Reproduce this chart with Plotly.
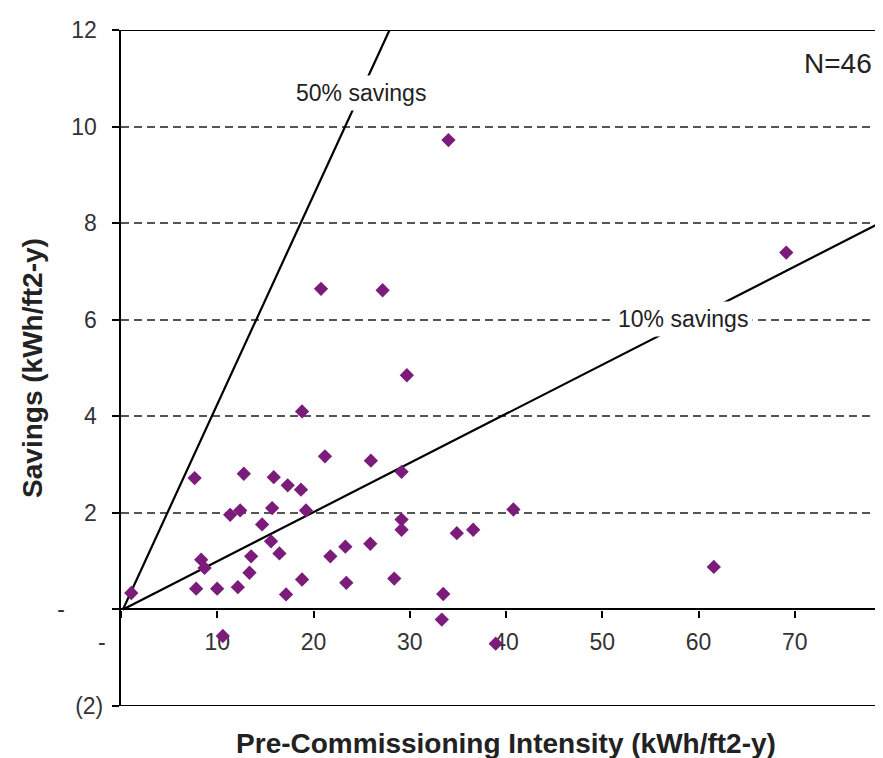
import plotly.graph_objects as go

# ---- data ----
pre_intensity = [1.07, 7.65, 12.76, 15.87, 17.32, 18.70, 18.81, 21.19, 11.34, 12.38,
                 15.70, 19.22, 14.66, 15.59, 16.46, 13.52, 13.35, 8.33, 8.68, 7.81,
                 9.99, 12.14, 17.15, 18.81, 21.75, 23.31, 23.41, 10.58, 20.78, 27.18,
                 29.70, 25.96, 29.15, 40.77, 29.15, 29.15, 34.89, 36.59, 25.90, 28.39,
                 33.48, 33.33, 38.93, 69.12, 61.59, 34.02]
savings = [0.34, 2.72, 2.81, 2.74, 2.57, 2.48, 4.10, 3.17, 1.96, 2.05,
           2.10, 2.05, 1.76, 1.41, 1.16, 1.10, 0.76, 1.03, 0.86, 0.43,
           0.43, 0.46, 0.31, 0.62, 1.10, 1.30, 0.55, -0.55, 6.64, 6.61,
           4.85, 3.08, 2.85, 2.07, 1.86, 1.65, 1.58, 1.65, 1.36, 0.64,
           0.32, -0.21, -0.71, 7.39, 0.88, 9.72]

line50_x = [0.2, 27.9]
line50_y = [0, 12]
line10_x = [0.2, 80]
line10_y = [0, 8.12]

x_tickvals = [0, 10, 20, 30, 40, 50, 60, 70, 80]
NB = "\u00a0"
x_ticktext = ["-" + NB * 6, "10", "20", "30", "40", "50", "60", "70", "80"]
y_tickvals = [-2, 0, 2, 4, 6, 8, 10, 12]
y_ticktext = ["(2)", "-" + NB * 6, "2" + NB, "4" + NB, "6" + NB, "8" + NB, "10" + NB, "12" + NB]

FONT = "Liberation Sans, Arial, sans-serif"
PURPLE = "#7B1C7B"

fig = go.Figure()

fig.add_trace(go.Scatter(x=line50_x, y=line50_y, mode="lines",
                         line=dict(color="black", width=2.2), hoverinfo="skip"))
fig.add_trace(go.Scatter(x=line10_x, y=line10_y, mode="lines",
                         line=dict(color="black", width=2.2), hoverinfo="skip"))
fig.add_trace(go.Scatter(x=pre_intensity, y=savings, mode="markers",
                         marker=dict(symbol="diamond", size=11, color=PURPLE),
                         cliponaxis=False))

# frame lines at top (12) and bottom (-2)
for yv in (12, -2):
    fig.add_shape(type="line", xref="paper", yref="y", x0=0, x1=1, y0=yv, y1=yv,
                  line=dict(color="black", width=2.2), layer="below")

fig.add_annotation(x=24.9, y=10.69, text="50% savings", showarrow=False,
                   font=dict(family=FONT, size=23, color="#222"),
                   bgcolor="white", borderpad=4)
fig.add_annotation(x=58.4, y=6.01, text="10% savings", showarrow=False,
                   font=dict(family=FONT, size=23, color="#222"),
                   bgcolor="white", borderpad=4)
fig.add_annotation(x=74.5, y=11.31, text="N=46", showarrow=False,
                   font=dict(family=FONT, size=28, color="#222"))

fig.update_layout(
    width=883, height=758,
    margin=dict(l=113, r=0, t=22, b=60, autoexpand=False),
    paper_bgcolor="white", plot_bgcolor="white",
    showlegend=False,
    font=dict(family=FONT, color="#222"),
    xaxis=dict(
        range=[0, 80], anchor="free", position=2 / 14,
        tickmode="array", tickvals=x_tickvals, ticktext=x_ticktext,
        ticks="outside", ticklen=7, tickwidth=2, tickcolor="black",
        showline=True, linecolor="black", linewidth=2.2,
        showgrid=False, zeroline=False, automargin=False,
        ticklabeloverflow="allow",
        tickfont=dict(family=FONT, size=23, color="#333"),
        ticklabelstandoff=5,
        layer="below traces",
        title=dict(text="Pre-Commissioning Intensity (kWh/ft2-y)",
                   font=dict(family=FONT, size=28, color="#222", weight="bold"),
                   standoff=78),
    ),
    yaxis=dict(
        range=[-2, 12],
        tickmode="array", tickvals=y_tickvals, ticktext=y_ticktext,
        ticks="outside", ticklen=7, tickwidth=2, tickcolor="black",
        showline=True, linecolor="black", linewidth=2.2,
        showgrid=True, gridcolor="#555", gridwidth=1.6, griddash="8px,5px",
        zeroline=False, automargin=False,
        tickfont=dict(family=FONT, size=23, color="#333"),
        ticklabelstandoff=4,
        layer="below traces",
        title=dict(text="Savings (kWh/ft2-y)",
                   font=dict(family=FONT, size=28, color="#222", weight="bold"),
                   standoff=6),
    ),
)

fig.write_html("out.html")
